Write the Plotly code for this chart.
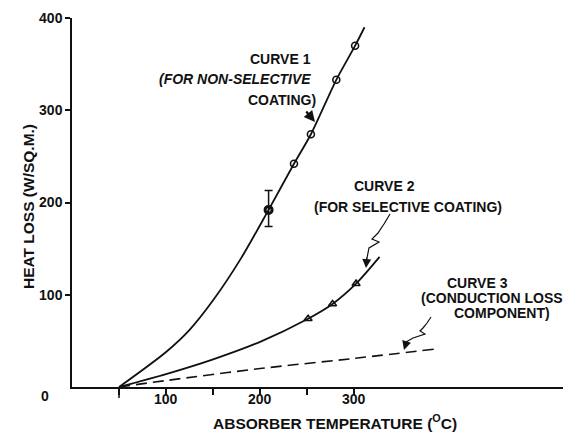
import plotly.graph_objects as go

# Measured heat loss (circles / triangles) and fitted curves
c1_pts_x = [209, 236, 254, 281, 301]
c1_pts_y = [192, 242, 274, 333, 370]
c1_err_up = [21]
c1_err_dn = [18]

c1_line_x = [50, 100, 125, 150, 180, 209, 236, 254, 281, 301, 311]
c1_line_y = [0, 38, 62, 94, 140, 192, 242, 274, 333, 370, 390]

c2_pts_x = [251, 277, 302]
c2_pts_y = [74, 90, 112]
c2_line_x = [50, 100, 150, 200, 251, 277, 302, 327]
c2_line_y = [0, 14, 30, 49, 74, 90, 112, 141]

c3_line_x = [50, 100, 200, 300, 385]
c3_line_y = [0, 7, 20, 31, 41]

x_tickvals = [50, 100, 150, 200, 250, 300]
x_labels = [100, 200, 300]
y_tickvals = [100, 200, 300, 400]

W, H = 574, 433
L, R, T, B = 72, 11, 18, 46
PW, PH = W - L - R, H - T - B
X_MAX = 522


def P(px, py):
    """pixel position -> paper coordinates"""
    return (px - L) / PW, (H - B - py) / PH


FONT = "Liberation Sans, Arial, Helvetica, sans-serif"
INK = "#111"

fig = go.Figure()

fig.add_trace(go.Scatter(x=c1_line_x, y=c1_line_y, mode="lines",
                         line=dict(color=INK, width=1.8, shape="spline", smoothing=0.8),
                         hoverinfo="skip"))
fig.add_trace(go.Scatter(x=c2_line_x, y=c2_line_y, mode="lines",
                         line=dict(color=INK, width=1.8, shape="spline", smoothing=0.8),
                         hoverinfo="skip"))
fig.add_trace(go.Scatter(x=c3_line_x, y=c3_line_y, mode="lines",
                         line=dict(color=INK, width=1.6, dash="11px,6px", shape="spline"),
                         hoverinfo="skip"))

# error bar on the first non-selective point
fig.add_trace(go.Scatter(x=c1_pts_x[:1], y=c1_pts_y[:1], mode="markers",
                         marker=dict(symbol="circle-open", size=7, color=INK,
                                     line=dict(width=3)),
                         error_y=dict(type="data", symmetric=False, array=c1_err_up,
                                      arrayminus=c1_err_dn, color=INK, thickness=1.5,
                                      width=4)))
fig.add_trace(go.Scatter(x=c1_pts_x[1:], y=c1_pts_y[1:], mode="markers",
                         marker=dict(symbol="circle-open", size=7, color=INK,
                                     line=dict(width=1.6))))
fig.add_trace(go.Scatter(x=c2_pts_x, y=c2_pts_y, mode="markers",
                         marker=dict(symbol="triangle-up-open", size=7, color=INK,
                                     line=dict(width=1.6))))

annotations = []


def text(px, py, s, anchor="center", italic=False, size=14, angle=0):
    x, y = P(px, py)
    if italic:
        s = "<i>" + s + "</i>"
    annotations.append(dict(x=x, y=y, xref="paper", yref="paper", text=s,
                            showarrow=False, xanchor=anchor, yanchor="middle",
                            textangle=angle,
                            font=dict(family=FONT, size=size, color=INK, weight="bold")))


def arrow(px, py, ax, ay, width=1.5, size=1.2):
    x, y = P(px, py)
    annotations.append(dict(x=x, y=y, xref="paper", yref="paper", text="",
                            showarrow=True, ax=ax, ay=ay, arrowhead=2,
                            arrowsize=size, arrowwidth=width, arrowcolor=INK))


# curve labels
text(313, 59, "CURVE 1", anchor="right")
text(313, 79, "(FOR NON-SELECTIVE", anchor="right", italic=True)
text(318, 100, "COATING)", anchor="right")
text(384, 186, "CURVE 2")
text(408, 207, "(FOR SELECTIVE COATING)")
text(477, 283, "CURVE 3")
text(492, 298, "(CONDUCTION LOSS")
text(502, 313, "COMPONENT)")

arrow(315, 122, -10, -12, width=2.2, size=1.0)
arrow(366, 268, 1, -12)
arrow(404, 350, 3, -10)

# x tick labels sit close under the axis
for v in x_labels:
    annotations.append(dict(x=v / X_MAX, y=P(0, 399)[1], xref="paper", yref="paper",
                            text=str(v), showarrow=False, xanchor="center",
                            yanchor="middle",
                            font=dict(family=FONT, size=14, color=INK, weight="bold")))

# axis labels
text(45, 396, "0")
text(335, 422, "ABSORBER TEMPERATURE (<sup>O</sup>C)", size=15.5)
text(28, 207, "HEAT LOSS (W/SQ.M.)", angle=-90, size=15.5)


# squiggly leader lines
def path(points):
    pts = [P(a, b) for a, b in points]
    return "M " + " L ".join(f"{a:.4f},{b:.4f}" for a, b in pts)


shapes = [
    dict(type="path", xref="paper", yref="paper",
         path=path([(390, 214), (384, 224), (378, 233), (372, 239), (379, 242),
                    (369, 248), (367, 258)]),
         line=dict(color=INK, width=1.2)),
    dict(type="path", xref="paper", yref="paper",
         path=path([(431, 317), (427, 323), (423, 328), (420, 331), (425, 334),
                    (413, 338), (406, 342)]),
         line=dict(color=INK, width=1.2)),
    # longer tick at the 50 mark
    dict(type="line", xref="paper", yref="paper",
         x0=50 / X_MAX, x1=50 / X_MAX, y0=0, y1=-11 / PH,
         line=dict(color=INK, width=1.5)),
]

fig.update_layout(
    width=W, height=H,
    margin=dict(l=L, r=R, t=T, b=B, pad=0),
    paper_bgcolor="white", plot_bgcolor="white",
    showlegend=False,
    annotations=annotations,
    shapes=shapes,
    xaxis=dict(range=[0, X_MAX], showgrid=False, zeroline=False, showline=True,
               linecolor=INK, linewidth=1.5, tickvals=x_tickvals, showticklabels=False,
               ticks="outside", ticklen=6, tickwidth=1.5, tickcolor=INK),
    yaxis=dict(range=[0, 400], showgrid=False, zeroline=False, showline=True,
               linecolor=INK, linewidth=1.5, tickvals=y_tickvals,
               ticks="outside", ticklen=5, tickwidth=1.5, tickcolor=INK,
               tickfont=dict(family=FONT, size=14, color=INK, weight="bold")),
)

fig.write_html("out.html")
